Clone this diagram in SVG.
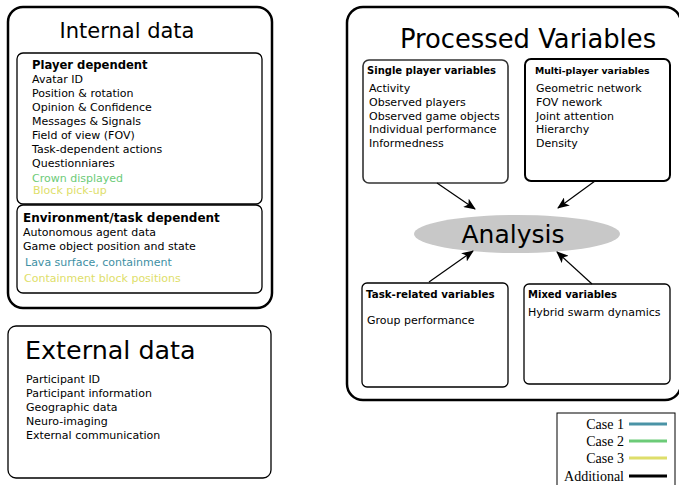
<svg xmlns="http://www.w3.org/2000/svg" width="679" height="485" viewBox="0 0 679 485">
<style>
text{font-family:"DejaVu Sans",Verdana,sans-serif;fill:#000}
.outer{fill:#fff;stroke:#000;stroke-width:2.5}
.inner{fill:#fff;stroke:#000;stroke-width:1.3}
.it{font-size:11px}
.sh{font-size:10px;font-weight:bold}
.conn{stroke:#000;stroke-width:1.2;fill:none;marker-end:url(#ah)}
.leg{font-family:"Liberation Serif","Times New Roman",serif;font-size:14px;text-anchor:end}
</style>
<defs>
<marker id="ah" viewBox="0 0 12 10" refX="11" refY="5" markerWidth="12" markerHeight="10" markerUnits="userSpaceOnUse" orient="auto">
<path d="M0,0 L12,5 L0,10 L3,5 Z" fill="#000"/>
</marker>
</defs>

<g id="internal">
<rect class="outer" x="8" y="7" width="264" height="301" rx="15"/>
<text x="127" y="38" font-size="21" text-anchor="middle">Internal data</text>
</g>
<g id="player-dependent">
<rect class="inner" x="17" y="53" width="245" height="151" rx="6"/>
<text x="32" y="69" font-size="11.6" font-weight="bold">Player dependent</text>
<text class="it" x="32" y="83">Avatar ID</text>
<text class="it" x="32" y="97">Position &amp; rotation</text>
<text class="it" x="32" y="111">Opinion &amp; Confidence</text>
<text class="it" x="32" y="125">Messages &amp; Signals</text>
<text class="it" x="32" y="139">Field of view (FOV)</text>
<text class="it" x="32" y="153">Task-dependent actions</text>
<text class="it" x="32" y="167">Questionniares</text>
<text class="it" x="32" y="182" style="fill:#6ccb78">Crown displayed</text>
<text class="it" x="33" y="194" style="fill:#dede6a">Block pick-up</text>
</g>
<g id="environment-dependent">
<rect class="inner" x="17" y="205" width="245" height="88" rx="6"/>
<text x="23" y="222" font-size="12" font-weight="bold">Environment/task dependent</text>
<text class="it" x="23" y="236">Autonomous agent data</text>
<text class="it" x="23" y="250">Game object position and state</text>
<text class="it" x="25" y="266" style="fill:#3e90a4">Lava surface, containment</text>
<text class="it" x="24" y="282" style="fill:#dede6a">Containment block positions</text>
</g>

<g id="external">
<rect class="inner" x="8" y="326" width="263" height="152" rx="8"/>
<text x="25" y="359" font-size="25.4">External data</text>
<text class="it" x="26" y="383">Participant ID</text>
<text class="it" x="26" y="397">Participant information</text>
<text class="it" x="26" y="411">Geographic data</text>
<text class="it" x="26" y="425">Neuro-imaging</text>
<text class="it" x="26" y="439">External communication</text>
</g>

<g id="processed">
<rect class="outer" x="347" y="7" width="334" height="393" rx="16"/>
<text x="528" y="48" font-size="25.8" text-anchor="middle">Processed Variables</text>
</g>
<g id="single-player">
<rect x="363" y="60" width="145" height="123" rx="6" fill="#fff" stroke="#333" stroke-width="1.6"/>
<text class="sh" x="367" y="74">Single player variables</text>
<text class="it" x="369" y="92">Activity</text>
<text class="it" x="369" y="106">Observed players</text>
<text class="it" x="369" y="120">Observed game objects</text>
<text class="it" x="369" y="133">Individual performance</text>
<text class="it" x="369" y="147">Informedness</text>
</g>
<g id="multi-player">
<rect x="525" y="59" width="145" height="122" rx="6" fill="#fff" stroke="#000" stroke-width="2"/>
<text x="535" y="74" font-size="9.3" font-weight="bold">Multi-player variables</text>
<text class="it" x="536" y="92">Geometric network</text>
<text class="it" x="536" y="106">FOV nework</text>
<text class="it" x="536" y="120">Joint attention</text>
<text class="it" x="536" y="133">Hierarchy</text>
<text class="it" x="536" y="147">Density</text>
</g>
<g id="analysis">
<ellipse cx="517" cy="234" rx="103" ry="19" fill="#c8c8c8"/>
<text x="513" y="243" font-size="25" text-anchor="middle">Analysis</text>
</g>
<g id="task-related">
<rect class="inner" x="362" y="283" width="146" height="104" rx="5"/>
<text x="366" y="298" font-size="10.3" font-weight="bold">Task-related variables</text>
<text class="it" x="367" y="324">Group performance</text>
</g>
<g id="mixed">
<rect class="inner" x="524" y="284" width="146" height="100" rx="5"/>
<text class="sh" x="528" y="298">Mixed variables</text>
<text class="it" x="528" y="316">Hybrid swarm dynamics</text>
</g>

<g id="connectors">
<line class="conn" x1="437" y1="183" x2="475" y2="209"/>
<line class="conn" x1="595" y1="181" x2="558" y2="208"/>
<line class="conn" x1="429" y1="282" x2="473" y2="251"/>
<line class="conn" x1="592" y1="284" x2="557" y2="252"/>
</g>

<g id="legend">
<rect x="557" y="413" width="118" height="80" fill="#fff" stroke="#000" stroke-width="1"/>
<text class="leg" x="624" y="429">Case 1</text>
<text class="leg" x="624" y="446">Case 2</text>
<text class="leg" x="624" y="463">Case 3</text>
<text class="leg" x="624" y="481">Additional</text>
<line x1="629" y1="424" x2="667" y2="424" stroke="#4a93a6" stroke-width="3"/>
<line x1="629" y1="441" x2="667" y2="441" stroke="#6ccb78" stroke-width="3"/>
<line x1="629" y1="458" x2="667" y2="458" stroke="#dede6a" stroke-width="3"/>
<line x1="629" y1="476" x2="667" y2="476" stroke="#000" stroke-width="3"/>
</g>
</svg>
